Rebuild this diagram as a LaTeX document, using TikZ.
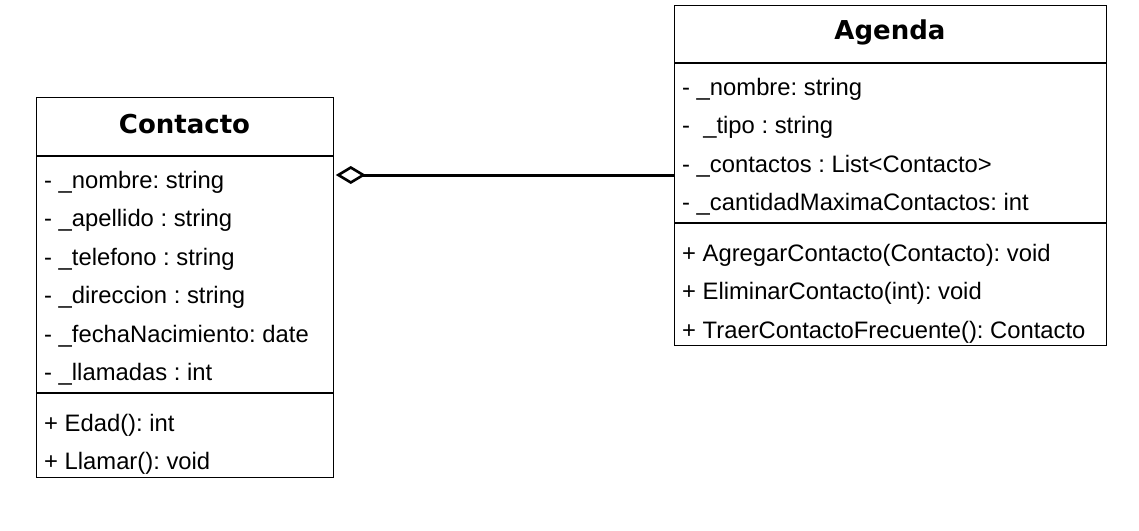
\documentclass[tikz,border=0pt]{standalone}
\usepackage{fontspec}
\setmainfont{Liberation Sans}
\newfontfamily\titlefont{DejaVu Sans}
\usetikzlibrary{arrows.meta}
\frenchspacing
\tikzset{
  classbox/.style={draw=black, line width=1.3pt, anchor=north west, inner sep=0pt},
  sepline/.style={draw=black, line width=1.3pt},
  title/.style={inner sep=0pt, anchor=center, font=\titlefont\bfseries\fontsize{26}{30}\selectfont},
  member/.style={inner sep=0pt, anchor=base west, font=\frenchspacing\fontsize{23.8}{28}\selectfont},
  aggregation/.style={line width=3pt, -{Diamond[open, length=30pt, width=18pt, line width=2.6pt]}}
}
\begin{document}
\begin{tikzpicture}[x=1pt,y=-1pt]
\useasboundingbox (0,0) rectangle (1139,530);
% Contacto
\node[classbox, minimum width=297pt, minimum height=380pt] (contacto) at (36,97) {};
\draw[sepline] (contacto.north west |- 0,156) -- (contacto.north east |- 0,156);
\draw[sepline] (contacto.north west |- 0,393) -- (contacto.north east |- 0,393);
\node[title] (contactoT) at (184.5,124) {Contacto};
\node[member] (c1) at (44,188) {- \_nombre: string};
\node[member] (c2) at (44,226.5) {- \_apellido : string};
\node[member] (c3) at (44,265) {- \_telefono : string};
\node[member] (c4) at (44,303.5) {- \_direccion : string};
\node[member] (c5) at (44,342) {- \_fechaNacimiento: date};
\node[member] (c6) at (44,380.5) {- \_llamadas : int};
\node[member] (c7) at (44,431) {+ Edad(): int};
\node[member] (c8) at (44,469.5) {+ Llamar(): void};
% Agenda
\node[classbox, minimum width=432pt, minimum height=340pt] (agenda) at (674,5) {};
\draw[sepline] (agenda.north west |- 0,63) -- (agenda.north east |- 0,63);
\draw[sepline] (agenda.north west |- 0,223) -- (agenda.north east |- 0,223);
\node[title] (agendaT) at (890,32) {Agenda};
\node[member] (a1) at (682,95) {- \_nombre: string};
\node[member] (a2) at (682,133.5) {-\ \ \_tipo : string};
\node[member] (a3) at (682,172) {- \_contactos : List<Contacto>};
\node[member] (a4) at (682,210.5) {- \_cantidadMaximaContactos: int};
\node[member] (a5) at (682,261) {+ AgregarContacto(Contacto): void};
\node[member] (a6) at (682,299.5) {+ EliminarContacto(int): void};
\node[member] (a7) at (682,338) {+ TraerContactoFrecuente(): Contacto};
% aggregation
\coordinate (aggA) at (agenda.west |- 0,175);
\coordinate (aggC) at (contacto.east |- 0,175);
\draw[aggregation] (aggA) -- ([xshift=1.5pt]aggC);
\end{tikzpicture}
\end{document}
